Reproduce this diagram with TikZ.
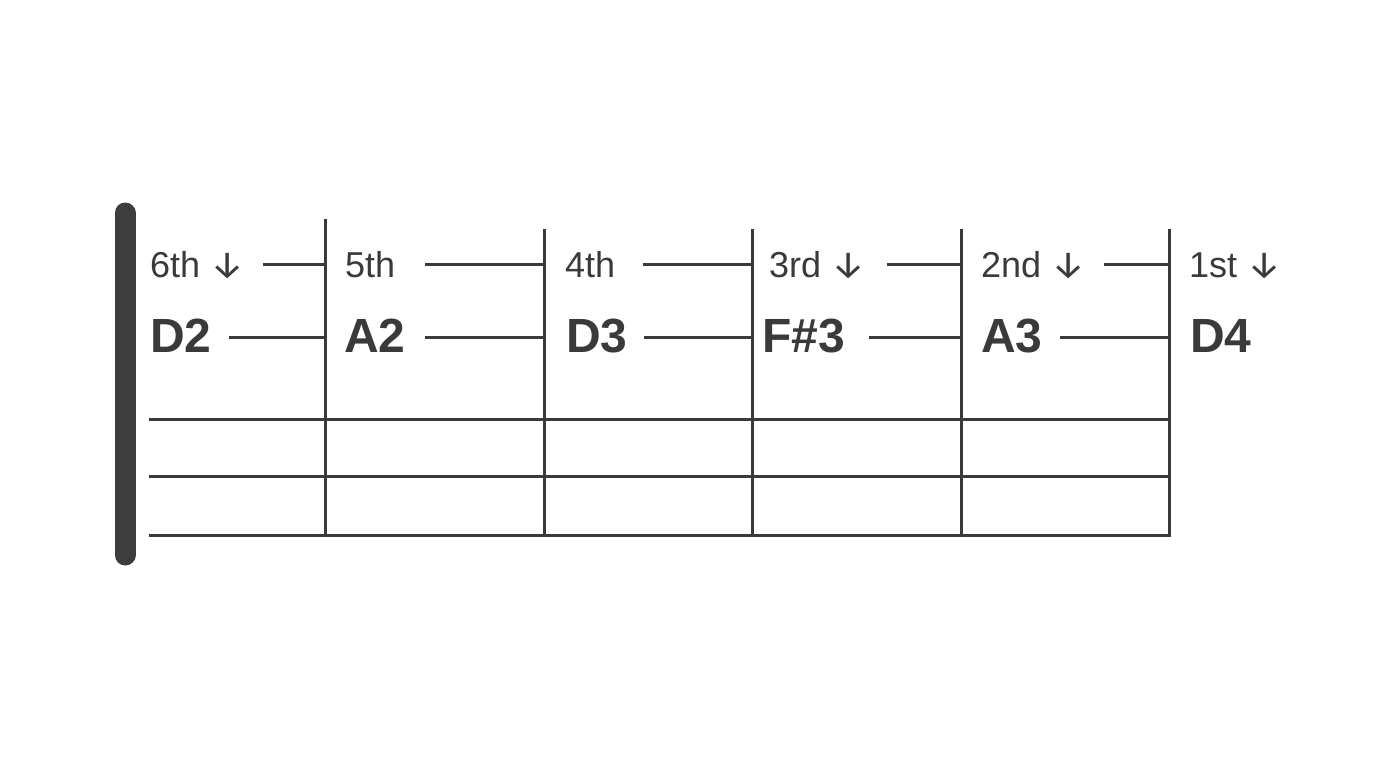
\documentclass[tikz,border=0pt]{standalone}
\usepackage{fontspec}
\setmainfont{Liberation Sans}
\newfontfamily\arrowfont{Fira Sans}
\newcommand{\dn}{\hspace{10pt}{\arrowfont\fontsize{38}{40}\selectfont ↓}}
\definecolor{ink}{HTML}{3A3A3A}
\definecolor{bar}{HTML}{3D3D3D}
\begin{document}
\begin{tikzpicture}[x=1pt,y=-1pt,
  staff/.style={draw=ink,line width=3pt},
  stringlbl/.style={anchor=base west,inner sep=0pt,text=ink,font=\fontsize{36}{40}\selectfont},
  notelbl/.style={anchor=base west,inner sep=0pt,text=ink,font=\fontsize{48}{52}\selectfont\bfseries},
  conn/.style={draw=ink,line width=3pt}]
\useasboundingbox[fill=white] (0,0) rectangle (1376,768);
% thick bar
\draw[bar,line width=21pt,line cap=round] (125,213) -- (125,555);
% vertical lines
\coordinate (v1t) at (325,219); \coordinate (v1b) at (325,535);
\coordinate (v2t) at (544,229); \coordinate (v2b) at (544,535);
\coordinate (v3t) at (752,229); \coordinate (v3b) at (752,535);
\coordinate (v4t) at (961,229); \coordinate (v4b) at (961,535);
\coordinate (v5t) at (1169,229); \coordinate (v5b) at (1169,535);
\foreach \i in {1,...,5} \draw[staff] (v\i t) -- (v\i b);
% horizontal lines
\foreach \y in {419,476,535} \draw[staff,line cap=rect] (150,\y) -- (1169,\y);
% top labels
\node[stringlbl] (s6) at (150,277) {6th\dn};
\node[stringlbl] (s5) at (345,277) {5th};
\node[stringlbl] (s4) at (565,277) {4th};
\node[stringlbl] (s3) at (769,277) {3rd\dn};
\node[stringlbl] (s2) at (981,277) {2nd\dn};
\node[stringlbl] (s1) at (1189,277) {1st\dn};
% note labels
\node[notelbl] (n6) at (150,352) {D2};
\node[notelbl] (n5) at (344,352) {A2};
\node[notelbl] (n4) at (566,352) {D3};
\node[notelbl] (n3) at (762,352) {F\#3};
\node[notelbl] (n2) at (981,352) {A3};
\node[notelbl] (n1) at (1190,352) {D4};
% connectors top row (y=264)
\coordinate (a6) at (263,264); \draw[conn] (a6) -- (a6 -| v1t);
\coordinate (a5) at (425,264); \draw[conn] (a5) -- (a5 -| v2t);
\coordinate (a4) at (643,264); \draw[conn] (a4) -- (a4 -| v3t);
\coordinate (a3) at (887,264); \draw[conn] (a3) -- (a3 -| v4t);
\coordinate (a2) at (1104,264); \draw[conn] (a2) -- (a2 -| v5t);
% connectors note row (y=337)
\coordinate (b6) at (229,337); \draw[conn] (b6) -- (b6 -| v1t);
\coordinate (b5) at (425,337); \draw[conn] (b5) -- (b5 -| v2t);
\coordinate (b4) at (644,337); \draw[conn] (b4) -- (b4 -| v3t);
\coordinate (b3) at (869,337); \draw[conn] (b3) -- (b3 -| v4t);
\coordinate (b2) at (1060,337); \draw[conn] (b2) -- (b2 -| v5t);
\end{tikzpicture}
\end{document}
